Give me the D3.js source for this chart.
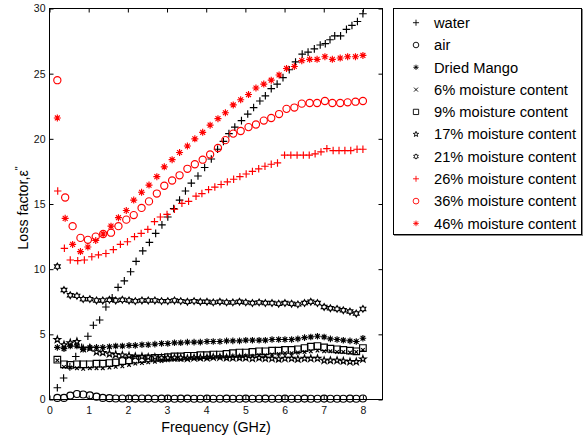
<!DOCTYPE html>
<html lang="en">
<head>
<meta charset="utf-8">
<title>Loss factor vs frequency</title>
<script src="https://cdn.jsdelivr.net/npm/d3@7"></script>
<style>
body { margin: 0; background: #fff; font-family: Arial, "Liberation Sans", sans-serif; }
.tick text { font-size: 10.5px; fill: #111; font-family: Arial, "Liberation Sans", sans-serif; }
.tick line { stroke: #000; }
.mark { fill: none; stroke-width: 1.15; }
.legend .mark { stroke-width: 0.9; }
.legend text { font-size: 14.7px; fill: #000; }
.label { font-size: 14.3px; fill: #000; }
</style>
</head>
<body>
<div id="chart"></div>
<script>
// frequencies (GHz) of the different sweeps
const freqA = [0.2,0.4,0.59,0.79,0.98,1.18,1.37,1.57,1.76,1.96,2.15,2.35,2.54,2.74,2.93,3.13,3.32,3.52,3.71,3.91,
  4.1,4.3,4.49,4.69,4.88,5.08,5.27,5.47,5.66,5.86,6.05,6.25,6.44,6.64,6.83,7.03,7.22,7.42,7.61,7.81,8.0];
const freqB = [0.2,0.37,0.53,0.7,0.86,1.03,1.2,1.36,1.53,1.69,1.86,2.03,2.19,2.36,2.52,2.69,2.86,3.02,3.19,3.35,
  3.52,3.69,3.85,4.02,4.18,4.35,4.52,4.68,4.85,5.01,5.18,5.35,5.51,5.68,5.85,6.01,6.18,6.34,6.51,6.67,
  6.84,7.01,7.17,7.34,7.5,7.67,7.83,8.0];
const freqWater = [0.2,0.36,0.52,0.67,0.82,0.98,1.12,1.28,1.44,1.6,1.75,1.91,2.07,2.21,2.38,2.55,2.71,2.87,3.02,3.17,
  3.32,3.47,3.62,3.79,3.96,4.13,4.29,4.44,4.58,4.73,4.9,5.06,5.21,5.37,5.51,5.66,5.81,5.96,6.12,6.28,
  6.45,6.6,6.76,6.91,7.04,7.16,7.28,7.43,7.58,7.72,7.86,8.0];
const freq26 = [0.21,0.38,0.53,0.72,0.89,1.08,1.25,1.44,1.63,1.81,1.99,2.17,2.34,2.51,2.68,2.83,3.0,3.19,3.38,3.55,
  3.74,3.89,4.06,4.22,4.38,4.54,4.7,4.86,5.02,5.18,5.34,5.5,5.66,5.82,6.0,6.16,6.32,6.48,6.63,6.78,
  6.93,7.08,7.24,7.39,7.54,7.69,7.85,8.0];

// loss factor values
const lossWater = [0.9,1.65,2.5,3.3,4.0,4.85,5.7,6.1,7.1,7.8,8.6,9.1,9.8,10.6,11.4,12.05,12.75,13.4,14.0,14.65,
  15.3,16.0,16.6,17.15,17.8,18.45,19.2,19.8,20.4,20.9,21.4,21.9,22.4,22.9,23.3,23.85,24.2,24.7,25.3,25.9,
  26.5,26.65,26.9,27.2,27.3,27.6,27.9,27.9,28.4,28.7,29.0,29.6];
const lossAir = [0.12,0.12,0.3,0.42,0.38,0.32,0.22,0.12,0.1,0.08,0.08,0.07,0.07,0.08,0.07,0.06,0.07,0.07,0.06,0.07,
  0.07,0.06,0.06,0.07,0.06,0.06,0.07,0.06,0.06,0.07,0.06,0.06,0.07,0.06,0.06,0.07,0.06,0.06,0.07,0.06,
  0.06,0.07,0.06,0.06,0.06,0.07,0.06,0.08];
const lossMango = [4.0,3.9,4.1,4.1,3.85,4.0,4.0,4.0,4.05,4.1,4.1,4.15,4.15,4.2,4.2,4.25,4.3,4.3,4.35,4.35,
  4.4,4.4,4.4,4.45,4.45,4.45,4.5,4.5,4.5,4.55,4.55,4.55,4.55,4.6,4.6,4.6,4.6,4.65,4.75,4.8,
  4.85,4.8,4.65,4.6,4.55,4.5,4.45,4.7];
const loss6 = [3.0,2.5,2.45,2.4,2.35,2.4,2.4,2.4,2.45,2.5,2.55,2.65,2.75,2.8,2.85,2.9,2.95,3.0,3.05,3.05,
  3.1,3.15,3.15,3.2,3.2,3.25,3.25,3.3,3.3,3.35,3.35,3.4,3.4,3.45,3.5,3.55,3.55,3.6,3.65,3.7,
  3.75,3.7,3.7,3.65,3.65,3.6,3.65,3.8];
const loss9 = [3.05,2.7,2.65,2.7,2.7,2.7,2.75,2.75,2.8,2.85,2.95,3.0,3.05,3.1,3.15,3.2,3.2,3.25,3.3,3.3,
  3.35,3.35,3.4,3.4,3.45,3.45,3.5,3.55,3.6,3.6,3.65,3.7,3.7,3.75,3.75,3.8,3.8,3.85,3.95,4.05,
  4.1,4.0,3.9,3.85,3.8,3.75,3.7,3.95];
const loss17 = [4.6,4.2,4.35,4.45,3.9,3.95,3.65,3.6,3.5,3.45,3.4,3.35,3.3,3.3,3.25,3.25,3.2,3.2,3.2,3.2,
  3.15,3.2,3.2,3.2,3.25,3.25,3.2,3.2,3.2,3.2,3.15,3.2,3.15,3.15,3.1,3.15,3.15,3.1,3.15,3.15,
  3.15,3.0,3.0,3.0,2.95,2.9,2.9,3.1];
const loss21 = [10.2,8.4,8.0,7.95,7.7,7.7,7.6,7.6,7.65,7.6,7.65,7.6,7.55,7.6,7.6,7.6,7.55,7.55,7.6,7.55,
  7.5,7.55,7.5,7.5,7.45,7.5,7.45,7.45,7.5,7.45,7.4,7.45,7.4,7.4,7.35,7.4,7.35,7.3,7.4,7.5,
  7.4,7.1,7.0,6.95,6.85,6.75,6.6,6.95];
const loss26 = [16.0,11.6,10.7,10.65,10.7,10.95,11.1,11.2,11.5,11.9,12.1,12.5,12.75,13.05,13.65,14.0,14.2,14.6,15.05,15.2,
  15.6,15.8,16.1,16.3,16.5,16.7,16.9,17.1,17.3,17.5,17.7,17.9,18.05,18.15,18.75,18.75,18.75,18.75,18.75,18.85,
  19.0,19.25,19.1,19.1,19.1,19.1,19.2,19.2];
const loss36 = [24.5,15.5,13.3,12.4,12.25,12.5,12.7,12.8,13.3,13.8,14.15,14.7,15.2,15.8,16.4,16.8,17.2,17.7,18.05,18.4,
  18.8,19.3,19.9,20.4,20.6,20.9,21.1,21.4,21.6,21.9,22.3,22.4,22.7,22.75,22.75,22.9,22.75,22.75,22.8,22.85,22.9];
const loss46 = [21.6,13.9,11.9,11.35,11.7,12.2,12.7,13.3,13.95,14.5,15.3,15.9,16.45,17.1,17.85,18.4,18.95,19.45,20.0,20.5,
  21.05,21.55,22.0,22.6,23.0,23.4,23.9,24.2,24.5,24.9,25.4,25.55,26.0,26.1,26.1,26.3,26.1,26.2,26.3,26.3,26.4];

const xTicks = [0, 1, 2, 3, 4, 5, 6, 7, 8];
const yTicks = [0, 5, 10, 15, 20, 25, 30];

const series = [
  { name: "water", f: freqWater, v: lossWater, type: "plus", color: "#000", size: 3.8 },
  { name: "air", f: freqB, v: lossAir, type: "circle", color: "#000", size: 3.5 },
  { name: "Dried Mango", f: freqB, v: lossMango, type: "asterisk", color: "#000", size: 3.3 },
  { name: "6% moisture content", f: freqB, v: loss6, type: "x", color: "#000", size: 1.8 },
  { name: "9% moisture content", f: freqB, v: loss9, type: "square", color: "#000", size: 3.3 },
  { name: "17% moisture content", f: freqB, v: loss17, type: "pentagram", color: "#000", size: 3.5 },
  { name: "21% moisture content", f: freqB, v: loss21, type: "hexagram", color: "#000", size: 3.3 },
  { name: "26% moisture content", f: freq26, v: loss26, type: "plus", color: "#ff0000", size: 3.7 },
  { name: "36% moisture content", f: freqA, v: loss36, type: "circle", color: "#ff0000", size: 3.6 },
  { name: "46% moisture content", f: freqA, v: loss46, type: "asterisk", color: "#ff0000", size: 3.5 }
];

const width = 584, height = 441;
const svg = d3.select("#chart").append("svg")
    .attr("width", width)
    .attr("height", height);

const x = d3.scaleLinear().domain([0, 8.5]).range([49.5, 382.5]);
const y = d3.scaleLinear().domain([0, 30]).range([399.5, 8.5]);

function starPath(n, r1, r2) {
  const p = [];
  for (let i = 0; i < 2 * n; i++) {
    const a = -Math.PI / 2 + i * Math.PI / n;
    const r = i % 2 ? r2 : r1;
    p.push((r * Math.cos(a)).toFixed(2) + "," + (r * Math.sin(a)).toFixed(2));
  }
  return "M" + p.join("L") + "Z";
}

function markerPath(type, s) {
  const plus = `M${-s},0H${s}M0,${-s}V${s}`;
  if (type === "plus") return plus;
  if (type === "x") return `M${-s},${-s}L${s},${s}M${-s},${s}L${s},${-s}`;
  if (type === "asterisk") {
    const d = s * 0.7;
    return plus + `M${-d},${-d}L${d},${d}M${-d},${d}L${d},${-d}`;
  }
  if (type === "circle") return `M${s},0A${s},${s} 0 1,1 ${-s},0A${s},${s} 0 1,1 ${s},0`;
  if (type === "square") return `M${-s},${-s}H${s}V${s}H${-s}Z`;
  if (type === "pentagram") return starPath(5, s, s * 0.4);
  if (type === "hexagram") return starPath(6, s, s * 0.58);
}

// axes: ticks pointing inward on all four sides
svg.append("g")
    .attr("transform", "translate(0,399.5)")
    .call(d3.axisBottom(x).tickValues(xTicks).tickSizeInner(-4).tickSizeOuter(0).tickPadding(7))
    .call(g => g.select(".domain").remove());
svg.append("g")
    .attr("transform", "translate(49.5,0)")
    .call(d3.axisLeft(y).tickValues(yTicks).tickSizeInner(-4).tickSizeOuter(0).tickPadding(4))
    .call(g => g.select(".domain").remove());
svg.append("g")
    .attr("transform", "translate(0,8.5)")
    .call(d3.axisTop(x).tickValues(xTicks).tickSizeInner(-4).tickSizeOuter(0).tickFormat(""))
    .call(g => g.select(".domain").remove());
svg.append("g")
    .attr("transform", "translate(382.5,0)")
    .call(d3.axisRight(y).tickValues(yTicks).tickSizeInner(-4).tickSizeOuter(0).tickFormat(""))
    .call(g => g.select(".domain").remove());

svg.append("rect")
    .attr("x", 49.5).attr("y", 8.5)
    .attr("width", 333).attr("height", 391)
    .attr("fill", "none").attr("stroke", "#000").attr("stroke-width", 1);

// markers
series.forEach(s => {
  svg.append("g")
    .selectAll("path")
    .data(s.f.map((f, i) => [f, s.v[i]]))
    .enter()
    .append("path")
    .attr("class", "mark")
    .attr("d", markerPath(s.type, s.size))
    .attr("stroke", s.color)
    .attr("transform", d => `translate(${x(d[0])},${y(d[1])})`);
});

// axis labels
svg.append("text")
    .attr("class", "label")
    .attr("x", 216).attr("y", 432)
    .attr("text-anchor", "middle")
    .text("Frequency (GHz)");

const yl = svg.append("text")
    .attr("class", "label")
    .attr("transform", "translate(28,208) rotate(-90)")
    .attr("text-anchor", "middle");
yl.append("tspan").text("Loss factor,ε");
yl.append("tspan").attr("dy", -5).attr("font-size", "10px").text("''");

// legend
svg.append("rect")
    .attr("x", 394.5).attr("y", 9.5)
    .attr("width", 188).attr("height", 226)
    .attr("fill", "none").attr("stroke", "#888").attr("stroke-width", 1);
svg.append("rect")
    .attr("x", 393.5).attr("y", 8.5)
    .attr("width", 188).attr("height", 226)
    .attr("fill", "#fff").attr("stroke", "#000").attr("stroke-width", 1);

const legend = svg.append("g").attr("class", "legend");
const rows = legend.selectAll("g")
    .data(series)
    .enter()
    .append("g")
    .attr("transform", (d, i) => `translate(0,${22.7 + i * 22.3})`);
rows.append("path")
    .attr("class", "mark")
    .attr("d", d => markerPath(d.type, Math.max(d.size * 0.8, 2)))
    .attr("stroke", d => d.color)
    .attr("transform", "translate(416,0)");
rows.append("text")
    .attr("x", 434)
    .attr("dy", "0.36em")
    .text(d => d.name);
</script>
</body>
</html>
